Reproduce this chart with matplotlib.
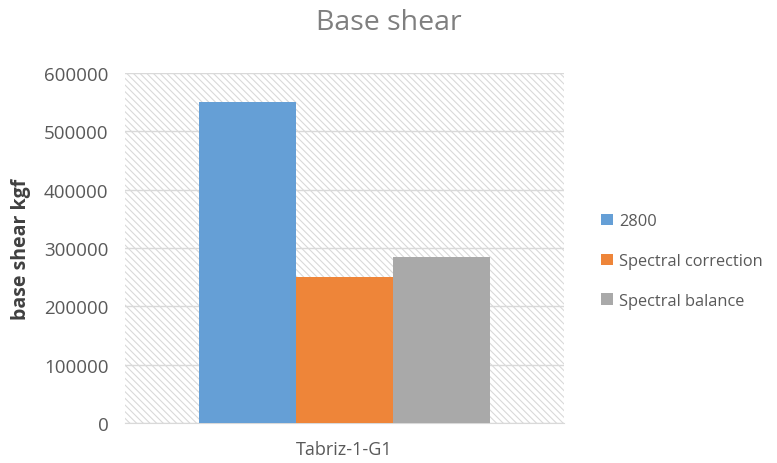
import matplotlib.pyplot as plt
import matplotlib as mpl

categories = ["Tabriz-1-G1"]
series_names = ["2800", "Spectral correction", "Spectral balance"]
series_values = [[550000], [251000], [285000]]
colors = ["#659fd6", "#ee8539", "#a9a9a9"]
yticks = [0, 100000, 200000, 300000, 400000, 500000, 600000]

plt.rcParams['font.family'] = ['Open Sans', 'DejaVu Sans']
mpl.rcParams['hatch.color'] = '#d9d9d9'
mpl.rcParams['hatch.linewidth'] = 0.8

fig = plt.figure(figsize=(7.77, 4.64), dpi=100)
ax = fig.add_axes([0.1609, 0.0862, 0.565, 0.7543])

# hatched plot background
ax.patch.set_facecolor('white')
ax.patch.set_hatch('\\\\\\\\\\')
ax.patch.set_edgecolor('#d9d9d9')
ax.patch.set_linewidth(0)

width = 0.221
x0 = 0
for i, (name, vals) in enumerate(zip(series_names, series_values)):
    ax.bar(x0 + (i - 1) * width, vals[0], width=width, color=colors[i],
           label=name, zorder=3)

ax.set_xlim(-0.5, 0.5)
ax.set_ylim(0, 600000)
ax.set_yticks(yticks)
ax.set_yticklabels([str(v) for v in yticks])
ax.set_xticks([x0])
ax.set_xticklabels(categories)
ax.yaxis.grid(True, color='#d9d9d9', linewidth=1, zorder=1)
ax.set_axisbelow(True)

for s in ['top', 'right', 'left']:
    ax.spines[s].set_visible(False)
ax.spines['bottom'].set_color('#d9d9d9')
ax.tick_params(axis='both', length=0, colors='#595959')
ax.tick_params(axis='y', pad=12, labelsize=13.5)
ax.tick_params(axis='x', pad=12, labelsize=13)

ax.set_ylabel("base shear kgf", fontsize=14, fontweight='bold', color='#404040', labelpad=9)
fig.text(0.50, 0.95, "Base shear", ha='center', va='center', fontsize=20.5, color='#7f7f7f')

fig.legend(loc='center left', bbox_to_anchor=(0.755, 0.435), frameon=False,
           fontsize=11.8, labelcolor='#595959', handlelength=0.7, handleheight=0.7,
           handletextpad=0.4, labelspacing=1.45)

fig.savefig("out.png", dpi=100)
